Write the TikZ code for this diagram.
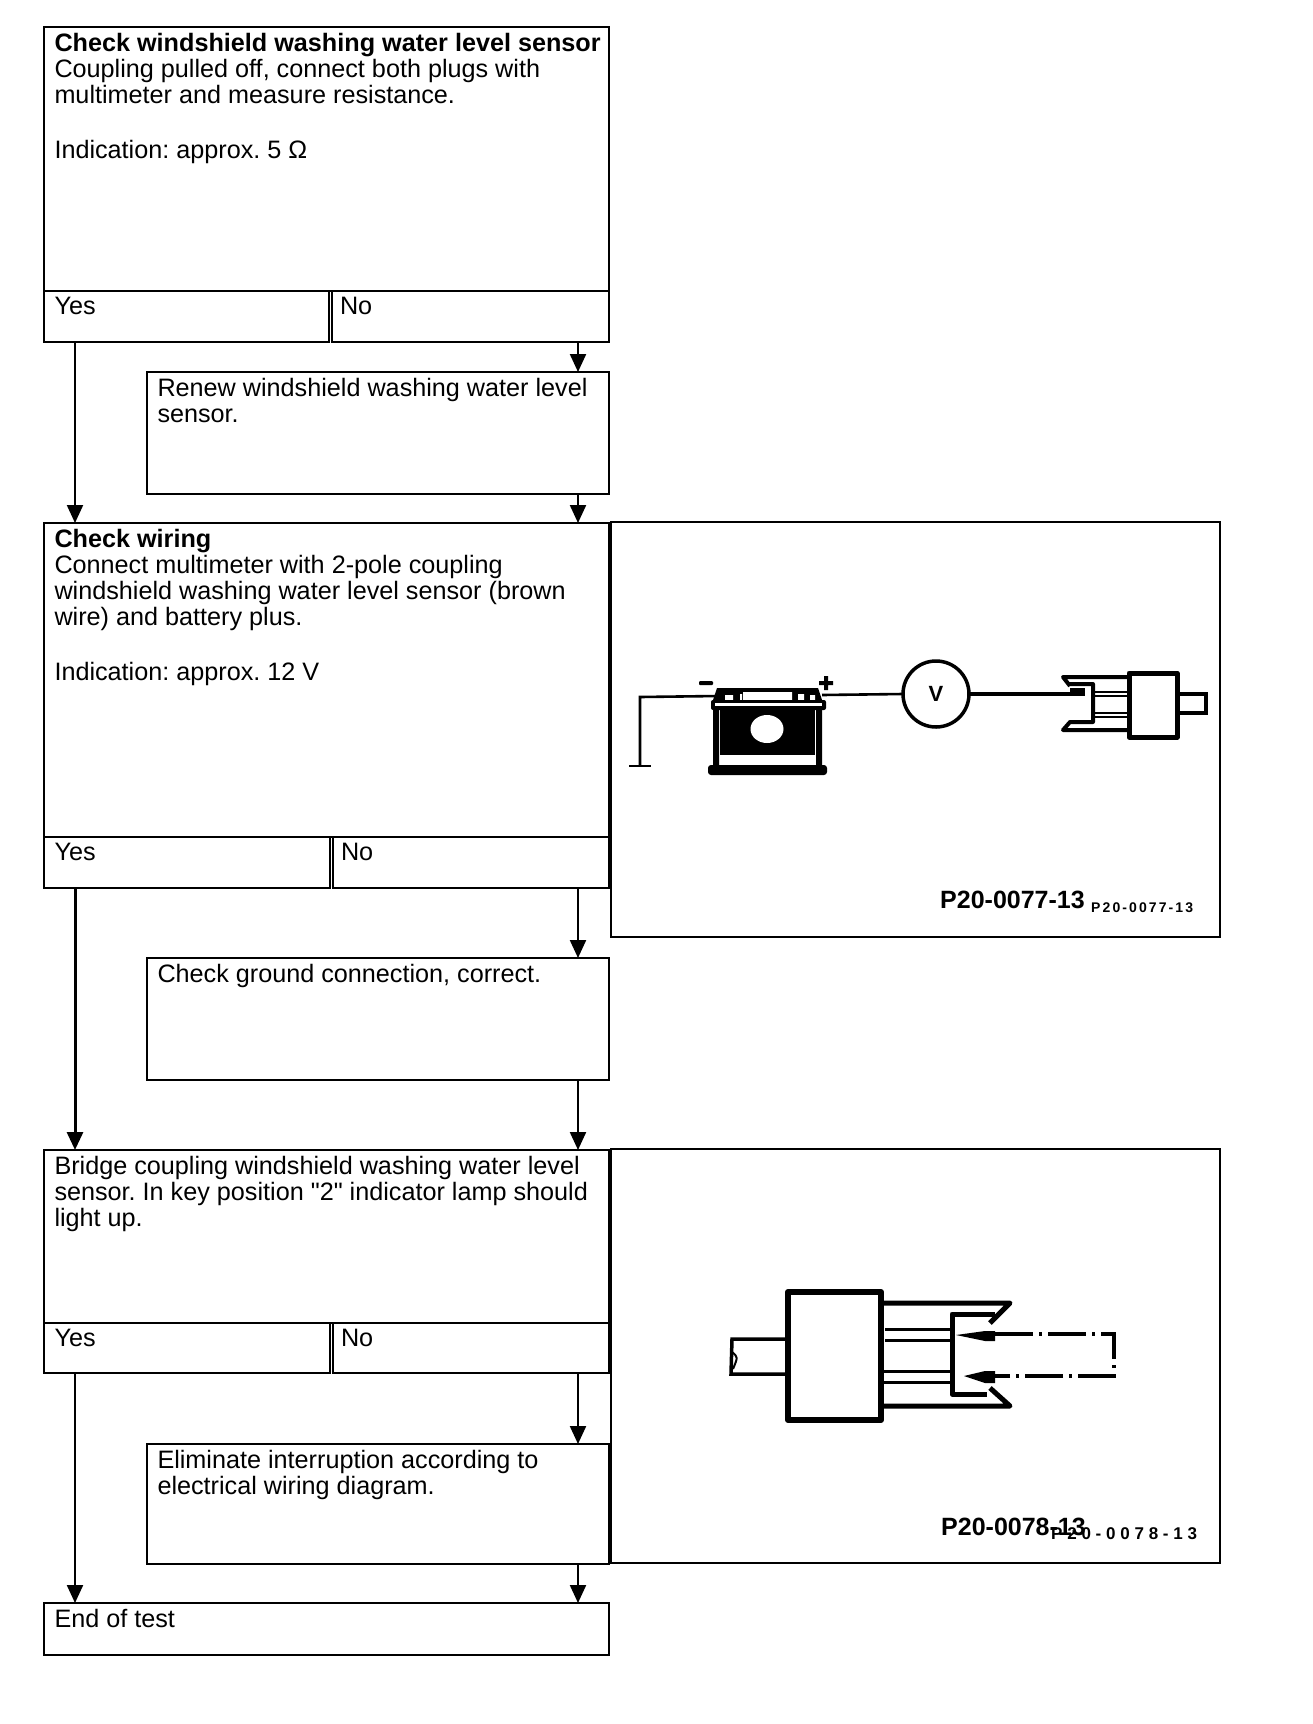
\documentclass[tikz,border=0pt]{standalone}
\usepackage{fontspec}
\setmainfont[Ligatures=TeXOff]{Liberation Sans}
\usetikzlibrary{arrows.meta}
\tikzset{
  cell/.style={draw, line width=2.2pt, anchor=north west, inner sep=0pt, outer sep=0pt},
  celltext/.style={anchor=north west, align=left, inner xsep=10.5pt, inner ysep=6.5pt, outer sep=0pt,
    font=\fontsize{25.2}{26}\selectfont\frenchspacing},
  notext/.style={celltext, inner xsep=8pt},
  flow/.style={line width=2.2pt, -{Triangle[length=18pt,width=16pt]}},
  wire/.style={line width=2.6pt},
  heavy/.style={line width=5pt, line join=round},
  figlabel/.style={font=\bfseries\fontsize{25}{26}\selectfont, inner sep=0pt},
  figtag/.style={font=\bfseries\fontsize{14}{15}\addfontfeature{LetterSpace=15}, inner sep=0pt}
}
\begin{document}
\begin{tikzpicture}[x=1pt, y=-1pt]
  \useasboundingbox (0,0) rectangle (1312,1724);
  \coordinate (yesline) at (75,0);
  \coordinate (noline) at (578,0);

  % first test
  \node[cell, minimum width=565pt, minimum height=264pt] (check1) at (44,27) {};
  \node[celltext] (check1t) at (check1.north west) {\textbf{Check windshield washing water level sensor}\\Coupling pulled off, connect both plugs with\\multimeter and measure resistance.\\[29pt]Indication: approx. 5 Ω};
  \node[cell, minimum width=285pt, minimum height=51pt] (yes1) at (44,291) {};
  \node[celltext] (yes1t) at (yes1.north west) {Yes};
  \node[cell, minimum width=277pt, minimum height=51pt] (no1) at (332,291) {};
  \node[notext] (no1t) at (no1.north west) {No};
  \node[cell, minimum width=462pt, minimum height=122pt] (renew1) at (147,372) {};
  \node[celltext] (renew1t) at (renew1.north west) {Renew windshield washing water level\\sensor.};

  % wiring
  \node[cell, minimum width=565pt, minimum height=314pt] (check2) at (44,523) {};
  \node[celltext] (check2t) at (check2.north west) {\textbf{Check wiring}\\Connect multimeter with 2-pole coupling\\windshield washing water level sensor (brown\\wire) and battery plus.\\[29pt]Indication: approx. 12 V};
  \node[cell, minimum width=286pt, minimum height=51pt] (yes2) at (44,837) {};
  \node[celltext] (yes2t) at (yes2.north west) {Yes};
  \node[cell, minimum width=276pt, minimum height=51pt] (no2) at (333,837) {};
  \node[notext] (no2t) at (no2.north west) {No};
  \node[cell, minimum width=462pt, minimum height=122pt] (ground2) at (147,958) {};
  \node[celltext] (ground2t) at (ground2.north west) {Check ground connection, correct.};

  % bridge
  \node[cell, minimum width=565pt, minimum height=173pt] (check3) at (44,1150) {};
  \node[celltext] (check3t) at (check3.north west) {Bridge coupling windshield washing water level\\sensor. In key position "2" indicator lamp should\\light up.};
  \node[cell, minimum width=286pt, minimum height=50pt] (yes3) at (44,1323) {};
  \node[celltext] (yes3t) at (yes3.north west) {Yes};
  \node[cell, minimum width=276pt, minimum height=50pt] (no3) at (333,1323) {};
  \node[notext] (no3t) at (no3.north west) {No};
  \node[cell, minimum width=462pt, minimum height=120pt] (repair3) at (147,1444) {};
  \node[celltext] (repair3t) at (repair3.north west) {Eliminate interruption according to\\electrical wiring diagram.};
  \node[cell, minimum width=565pt, minimum height=52pt] (endtest) at (44,1603) {};
  \node[celltext] (endtestt) at (endtest.north west) {End of test};

  \draw[flow] (yes1.south -| yesline) -- (check2.north -| yesline);
  \draw[flow] (no1.south -| noline) -- (renew1.north -| noline);
  \draw[flow] (renew1.south -| noline) -- (check2.north -| noline);
  \draw[flow, line width=3pt] (yes2.south -| yesline) -- (check3.north -| yesline);
  \draw[flow] (no2.south -| noline) -- (ground2.north -| noline);
  \draw[flow] (ground2.south -| noline) -- (check3.north -| noline);
  \draw[flow] (yes3.south -| yesline) -- (endtest.north -| yesline);
  \draw[flow] (no3.south -| noline) -- (repair3.north -| noline);
  \draw[flow] (repair3.south -| noline) -- (endtest.north -| noline);

  % battery figure
  \node[cell, minimum width=609pt, minimum height=415pt] (fig1) at (611,522) {};
  \draw[wire] (629,766) -- (651,766);
  \draw[wire] (640,766) -- (640,697) -- (718,696);
  \fill[rounded corners=1pt] (699,681) rectangle (713,685);
  \fill (819,681) rectangle (833,685) (824,676) rectangle (828,690);
  \fill (713,700) -- (717,688) -- (818,688) -- (822,700) -- cycle;
  \fill[white] (743,692) rectangle (792,700) (725,695) rectangle (733,700) (740,694) rectangle (742,700)
    (798,694) rectangle (804,700) (810,695) rectangle (815,700);
  \fill[rounded corners=2pt] (711,700) rectangle (826,710);
  \fill[white] (715,703) rectangle (822,706);
  \fill (713,710) rectangle (719,767) (816,710) rectangle (822,767);
  \fill (720,710) rectangle (815,755);
  \fill[white] (767,729) ellipse (16.5 and 14);
  \fill[rounded corners=3pt] (708,765) rectangle (827,775);
  \node[draw, circle, line width=3.5pt, minimum size=66pt, inner sep=0pt, outer sep=0pt,
    font=\bfseries\fontsize{22}{24}\selectfont] (vmeter) at (936,694) {V};
  \draw[wire] (822,695) -- (vmeter.west);
  \draw[wire, line width=3.2pt] (vmeter.east) -- (1072,694);
  \fill (1070,688) rectangle (1085,696);
  \draw[heavy, line width=4pt] (1128,677) -- (1063,677) -- (1070,686) (1068,684) -- (1093,684) -- (1093,722) -- (1070,722) -- (1063,730) -- (1128,730);
  \draw[line width=2pt] (1093,692) -- (1128,692) (1093,696) -- (1128,696) (1093,713) -- (1128,713) (1093,717) -- (1128,717);
  \draw[heavy] (1129,673) rectangle (1177,737);
  \draw[line width=3.5pt] (1179,694) -- (1206,694) -- (1206,713) -- (1179,713);
  \node[figlabel, anchor=west] (label1) at (940,900) {P20-0077-13};
  \node[figtag, anchor=west] (tag1) at (1091,908) {P20-0077-13};

  % bridged coupling figure
  \node[cell, minimum width=609pt, minimum height=414pt] (fig2) at (611,1149) {};
  \draw[heavy, line width=6pt] (788,1292) rectangle (881,1420);
  \draw[line width=3.5pt] (785,1339) -- (732,1339) -- (731,1374) -- (785,1374);
  \draw[line width=2pt] (732,1352) .. controls (738,1357) .. (733,1369);
  \draw[heavy] (882,1303) -- (1010,1303) -- (990,1323);
  \draw[heavy] (995,1314) -- (952,1314) -- (952,1394) -- (987,1394);
  \draw[heavy] (990,1388) -- (1010,1406) -- (882,1406);
  \draw[line width=3pt] (885,1329) -- (950,1329) (885,1340) -- (950,1340) (883,1371) -- (950,1371) (883,1382) -- (950,1382);
  \fill (956,1335) -- (985,1331) -- (995,1331) -- (995,1341) -- (985,1341) -- cycle;
  \fill (964,1376) -- (985,1371) -- (995,1371) -- (995,1383) -- (985,1383) -- cycle;
  \draw[line width=3.5pt, dash pattern=on 38pt off 6pt on 3pt off 6pt] (995,1334) -- (1114,1334) -- (1114,1376) -- (995,1376);
  \node[figlabel, anchor=west] (label2) at (941,1527) {P20-0078-13};
  \node[figtag, anchor=west, font=\bfseries\fontsize{17}{18}\addfontfeature{LetterSpace=28}] (tag2) at (1051,1534) {P20-0078-13};
\end{tikzpicture}
\end{document}
